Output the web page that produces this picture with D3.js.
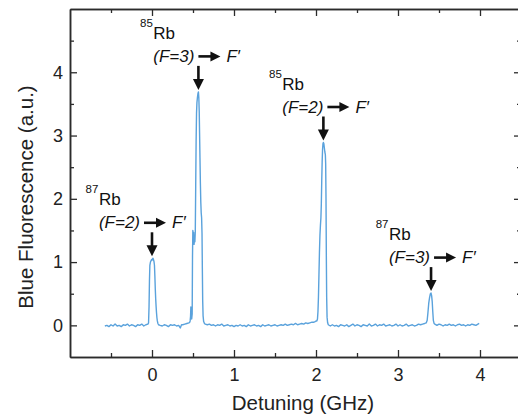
<!DOCTYPE html>
<html>
<head>
<meta charset="utf-8">
<script src="https://cdn.jsdelivr.net/npm/d3@7"></script>
<style>
  html, body { margin: 0; padding: 0; background: #fff; }
  svg { display: block; font-family: "Liberation Sans", Arial, sans-serif; }
</style>
</head>
<body>
<svg id="chart" width="518" height="414"></svg>
<script>
// ---------- data ----------
const scanLeft = [[-0.575,-0.01],[-0.55,0.00],[-0.525,-0.02],[-0.5,0.01],[-0.475,-0.01],[-0.45,0.02],[-0.425,-0.01],[-0.4,0.00],[-0.375,-0.02],[-0.35,0.01],[-0.325,0.00],[-0.3,0.02],[-0.275,-0.01],[-0.25,0.01],[-0.225,0.00],[-0.2,-0.02],[-0.175,0.01],[-0.15,0.00],[-0.125,0.02],[-0.1,-0.01],[-0.075,0.01],[-0.05,0.02]];
const peak87F2 = [[-0.042,0.04],[-0.036,0.3],[-0.031,0.7],[-0.026,0.95],[-0.019,1.0],[-0.012,1.02],[-0.005,1.04],[0.0,1.03],[0.006,1.05],[0.012,1.06],[0.018,1.04],[0.024,1.01],[0.03,0.95],[0.035,0.78],[0.04,0.58],[0.045,0.42],[0.05,0.3],[0.055,0.2],[0.06,0.12],[0.065,0.07],[0.072,0.03],[0.08,0.01]];
const gapA = [[0.1,0.00],[0.125,-0.01],[0.15,0.01],[0.175,0.00],[0.2,-0.02],[0.225,0.01],[0.25,0.00],[0.275,0.01],[0.3,-0.01],[0.325,0.00],[0.345,-0.04],[0.36,0.01],[0.375,0.01],[0.4,0.02],[0.425,0.03],[0.45,0.04]];
const peak85F3 = [[0.46,0.05],[0.465,0.07],[0.47,0.14],[0.474,0.29],[0.478,0.12],[0.484,0.1],[0.49,0.18],[0.494,1.1],[0.498,1.5],[0.503,1.3],[0.508,1.47],[0.513,1.28],[0.518,1.38],[0.523,1.32],[0.528,1.48],[0.533,2.2],[0.538,2.9],[0.543,3.35],[0.548,3.52],[0.554,3.6],[0.56,3.66],[0.566,3.69],[0.571,3.6],[0.576,3.38],[0.58,3.05],[0.585,2.65],[0.59,2.25],[0.595,1.95],[0.6,1.78],[0.605,1.7],[0.61,1.45],[0.614,0.9],[0.618,0.4],[0.623,0.15],[0.63,0.06],[0.64,0.03]];
const gapB = [[0.65,0.02],[0.675,0.01],[0.7,0.02],[0.725,0.00],[0.75,0.01],[0.775,-0.01],[0.8,0.01],[0.825,0.00],[0.85,0.02],[0.875,-0.01],[0.9,0.00],[0.925,0.01],[0.95,-0.01],[0.975,0.00],[1.0,-0.02],[1.025,0.00],[1.05,-0.01],[1.075,0.01],[1.1,-0.01],[1.125,0.00],[1.15,-0.02],[1.175,0.01],[1.2,-0.01],[1.225,0.00],[1.25,0.01],[1.275,-0.01],[1.3,0.00],[1.325,-0.02],[1.35,0.01],[1.375,-0.01],[1.4,0.00],[1.425,0.01],[1.45,-0.01],[1.475,0.00],[1.5,0.01],[1.525,-0.01],[1.55,0.00],[1.575,0.01],[1.6,0.00],[1.625,0.02],[1.65,0.00],[1.675,0.01],[1.7,0.02],[1.725,0.01],[1.75,0.03],[1.775,0.01],[1.8,0.02],[1.825,0.03],[1.85,0.02],[1.875,0.04],[1.9,0.03],[1.925,0.04],[1.95,0.05],[1.975,0.05]];
const peak85F2 = [[1.99,0.06],[2.0,0.07],[2.01,0.07],[2.018,0.1],[2.024,0.22],[2.03,0.45],[2.036,0.8],[2.042,1.15],[2.048,1.42],[2.054,1.58],[2.06,1.7],[2.065,1.92],[2.07,2.28],[2.075,2.58],[2.08,2.78],[2.085,2.87],[2.09,2.89],[2.096,2.87],[2.102,2.8],[2.108,2.74],[2.114,2.7],[2.118,2.55],[2.122,2.0],[2.126,1.1],[2.13,0.45],[2.135,0.13],[2.142,0.04],[2.15,0.01]];
const gapC = [[2.175,-0.01],[2.2,0.01],[2.225,-0.01],[2.25,0.00],[2.275,-0.02],[2.3,0.01],[2.325,0.00],[2.35,-0.01],[2.375,0.01],[2.4,-0.02],[2.425,0.00],[2.45,0.02],[2.475,-0.01],[2.5,0.01],[2.525,0.00],[2.55,-0.02],[2.575,0.01],[2.6,0.00],[2.625,-0.01],[2.65,0.02],[2.675,-0.01],[2.7,0.00],[2.725,0.02],[2.75,-0.01],[2.775,0.01],[2.8,0.00],[2.825,0.02],[2.85,-0.01],[2.875,0.00],[2.9,0.01],[2.925,-0.01],[2.95,0.00],[2.975,0.02],[3.0,-0.01],[3.025,0.01],[3.05,-0.01],[3.075,0.00],[3.1,0.02],[3.125,-0.01],[3.15,0.00],[3.175,0.01],[3.2,-0.01],[3.225,0.00],[3.25,0.02],[3.275,0.01],[3.3,0.02],[3.325,0.03]];
const peak87F3 = [[3.345,0.04],[3.356,0.08],[3.365,0.2],[3.375,0.35],[3.385,0.44],[3.395,0.5],[3.403,0.51],[3.41,0.47],[3.417,0.38],[3.424,0.22],[3.431,0.08],[3.44,0.03]];
const scanRight = [[3.45,0.02],[3.475,0.00],[3.5,0.02],[3.525,0.01],[3.55,-0.01],[3.575,0.01],[3.6,0.00],[3.625,0.02],[3.65,0.00],[3.675,0.01],[3.7,-0.01],[3.725,0.01],[3.75,0.02],[3.775,0.00],[3.8,0.01],[3.825,-0.01],[3.85,0.01],[3.875,0.00],[3.9,0.02],[3.925,0.01],[3.95,0.00],[3.975,0.02],[3.99,0.03]];

const xTicks = [0, 1, 2, 3, 4];
const xMinorTicks = [-0.5, 0.5, 1.5, 2.5, 3.5];
const yTicks = [0, 1, 2, 3, 4];
const yMinorTicks = [0.5, 1.5, 2.5, 3.5, 4.5];

const isotopes = ["87", "85", "85", "87"];
const groundStates = ["(F=2)", "(F=3)", "(F=2)", "(F=3)"];
const peakDetuning = [0.0, 0.566, 2.09, 3.403];
const peakHeight = [1.06, 3.69, 2.89, 0.51];

const xLabel = "Detuning (GHz)";
const yLabel = "Blue Fluorescence (a.u.)";

// ---------- layout ----------
const svg = d3.select("#chart");
const plotLeft = 70, plotRight = 521, plotTop = 9, plotBottom = 357;
const x = d3.scaleLinear().domain([-1, 4.5]).range([plotLeft, plotRight]);
const y = d3.scaleLinear().domain([-0.5, 5]).range([plotBottom, plotTop]);
const axisColor = "#2b2b2b";
const lineColor = "#5aa2dc";

// curve
const series = [].concat(scanLeft, peak87F2, gapA, peak85F3, gapB, peak85F2, gapC, peak87F3, scanRight);
svg.append("path")
  .datum(series)
  .attr("fill", "none")
  .attr("stroke", lineColor)
  .attr("stroke-width", 1.4)
  .attr("stroke-linejoin", "round")
  .attr("d", d3.line().x(d => x(d[0])).y(d => y(d[1])));

function styleAxis(g) {
  g.selectAll(".domain").attr("stroke", axisColor).attr("stroke-width", 1.5);
  g.selectAll(".tick line").attr("stroke", axisColor).attr("stroke-width", 1.3);
  g.selectAll(".tick text").attr("fill", "#222").style("font-size", "18px")
    .style("font-family", '"Liberation Sans", Arial, sans-serif');
}

// bottom
svg.append("g").attr("transform", `translate(0,${plotBottom})`)
  .call(d3.axisBottom(x).tickValues(xTicks).tickFormat(d3.format("d")).tickSizeInner(-7).tickSizeOuter(0).tickPadding(11))
  .call(styleAxis);
svg.append("g").attr("transform", `translate(0,${plotBottom})`)
  .call(d3.axisBottom(x).tickValues(xMinorTicks).tickFormat("").tickSizeInner(-4).tickSizeOuter(0))
  .call(styleAxis);
// top
svg.append("g").attr("transform", `translate(0,${plotTop})`)
  .call(d3.axisTop(x).tickValues(xTicks).tickFormat("").tickSizeInner(-7).tickSizeOuter(0))
  .call(styleAxis);
svg.append("g").attr("transform", `translate(0,${plotTop})`)
  .call(d3.axisTop(x).tickValues(xMinorTicks).tickFormat("").tickSizeInner(-4).tickSizeOuter(0))
  .call(styleAxis);
// left
svg.append("g").attr("transform", `translate(${plotLeft},0)`)
  .call(d3.axisLeft(y).tickValues(yTicks).tickFormat(d3.format("d")).tickSizeInner(-7).tickSizeOuter(0).tickPadding(7))
  .call(styleAxis);
svg.append("g").attr("transform", `translate(${plotLeft},0)`)
  .call(d3.axisLeft(y).tickValues(yMinorTicks).tickFormat("").tickSizeInner(-4).tickSizeOuter(0))
  .call(styleAxis);
// right
svg.append("g").attr("transform", `translate(${plotRight},0)`)
  .call(d3.axisRight(y).tickValues(yTicks).tickFormat("").tickSizeInner(-7).tickSizeOuter(0))
  .call(styleAxis);
svg.append("g").attr("transform", `translate(${plotRight},0)`)
  .call(d3.axisRight(y).tickValues(yMinorTicks).tickFormat("").tickSizeInner(-4).tickSizeOuter(0))
  .call(styleAxis);

// axis titles
svg.append("text")
  .attr("x", 303).attr("y", 410)
  .attr("text-anchor", "middle")
  .attr("fill", "#222")
  .style("font-size", "20.5px")
  .text(xLabel);
svg.append("text")
  .attr("transform", "translate(33,197) rotate(-90)")
  .attr("text-anchor", "middle")
  .attr("fill", "#222")
  .style("font-size", "20.5px")
  .text(yLabel);

// annotations
const labelShift = [-9, -1, 3, 2];
const ann = svg.append("g");
isotopes.forEach((iso, i) => {
  const ax = x(peakDetuning[i]);
  const tip = y(peakHeight[i]) - 2;
  const base = tip - 28;
  const bx = ax + labelShift[i];

  const fText = ann.append("text")
    .attr("x", bx - 3).attr("y", base)
    .attr("text-anchor", "end")
    .attr("fill", "#111")
    .style("font-size", "17px").style("font-style", "italic")
    .text(groundStates[i]);
  const w = fText.node().getComputedTextLength();
  const startX = bx - 3 - w;

  ann.append("text")
    .attr("x", startX).attr("y", base - 23)
    .attr("fill", "#111")
    .style("font-size", "17px")
    .text("Rb");
  ann.append("text")
    .attr("x", startX - 0.5).attr("y", base - 35)
    .attr("text-anchor", "end")
    .attr("fill", "#111")
    .style("font-size", "11.5px")
    .text(iso);

  // right arrow
  const ay = base - 5.5;
  ann.append("line")
    .attr("x1", bx + 1).attr("x2", bx + 15)
    .attr("y1", ay).attr("y2", ay)
    .attr("stroke", "#111").attr("stroke-width", 2.6);
  ann.append("path")
    .attr("d", `M${bx + 23},${ay} L${bx + 13},${ay - 5} L${bx + 13},${ay + 5} Z`)
    .attr("fill", "#111");
  ann.append("text")
    .attr("x", bx + 29).attr("y", base)
    .attr("fill", "#111")
    .style("font-size", "17px").style("font-style", "italic")
    .text("F\u2032");

  // down arrow
  ann.append("line")
    .attr("x1", ax).attr("x2", ax)
    .attr("y1", base + 4).attr("y2", tip - 8)
    .attr("stroke", "#111").attr("stroke-width", 2.6);
  ann.append("path")
    .attr("d", `M${ax},${tip} L${ax - 5.5},${tip - 11} L${ax + 5.5},${tip - 11} Z`)
    .attr("fill", "#111");
});
</script>
</body>
</html>
